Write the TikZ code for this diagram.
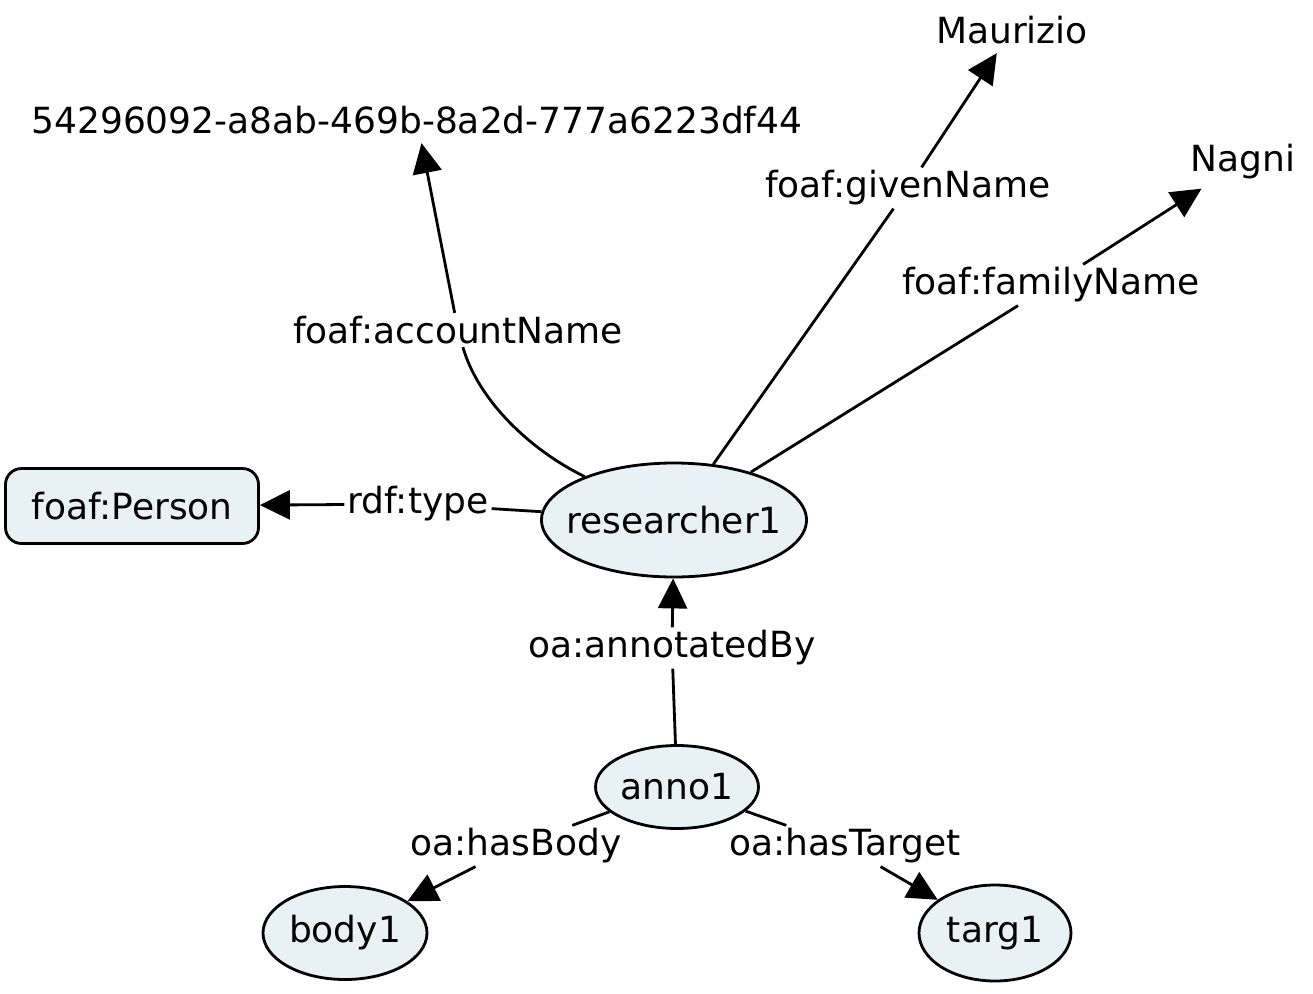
\documentclass[tikz,border=0pt]{standalone}
\usepackage{fontspec}
\setmainfont{DejaVu Sans}
\usetikzlibrary{arrows.meta,shapes.geometric}
\definecolor{nodefill}{RGB}{232,241,244}
\begin{document}
\begin{tikzpicture}[x=1pt,y=-1pt,
    font=\fontsize{36}{42}\selectfont,
    res/.style={ellipse,draw,line width=2.8pt,fill=nodefill,inner sep=0pt},
    cls/.style={rectangle,rounded corners=16pt,draw,line width=2.8pt,fill=nodefill,
      minimum width=253pt,minimum height=75pt},
    lit/.style={inner sep=9pt},
    lbl/.style={inner sep=3pt},
    link/.style={line width=2.8pt},
    arr/.style={link,-{Triangle[length=30pt,width=29pt]}}]
  \useasboundingbox (0,0) rectangle (1313,993);
  % resources and literals
  \node[res,inner xsep=-16pt,minimum width=265pt,minimum height=114pt] (researcher1) at (674,520) {researcher1};
  \node[res,minimum width=163pt,minimum height=83pt] (anno1) at (677,787) {anno1};
  \node[res,minimum width=164pt,minimum height=93pt] (body1) at (345,933) {body1};
  \node[res,minimum width=152pt,minimum height=96pt] (targ1) at (995,933) {targ1};
  \node[cls] (person) at (132,506) {foaf:Person};
  \node[lit] (account) at (417,120) {54296092-a8ab-469b-8a2d-777a6223df44};
  \node[lit] (given) at (1012,30) {Maurizio};
  \node[lit] (family) at (1243,162) {Nagni};
  % predicate labels
  \node[lbl] (type) at (418,504) {rdf:type};
  \node[lbl] (annotatedBy) at (672,648) {oa:annotatedBy};
  \node[lbl] (accountName) at (458,330) {foaf:accountName};
  \node[lbl] (givenName) at (908,188) {foaf:givenName};
  \node[lbl] (familyName) at (1051,285) {foaf:familyName};
  \node[lbl] (hasBody) at (516,846) {oa:hasBody};
  \node[lbl] (hasTarget) at (845,846) {oa:hasTarget};
  \begin{scope}
    \draw[link] (researcher1) -- (type);
    \draw[arr] (type) -- (person);
    \draw[link] (anno1) -- (annotatedBy);
    \draw[arr] (annotatedBy) -- (researcher1);
    \draw[link] (researcher1) .. controls (530,450) and (478,400) .. (accountName);
    \draw[arr] (accountName) -- (account);
    \draw[link] (researcher1) -- (givenName);
    \draw[arr] (givenName) -- (given);
    \draw[link] (researcher1) -- (familyName);
    \draw[arr] (familyName) -- (family);
    \draw[link] (anno1) -- (hasBody);
    \draw[arr] (hasBody) -- (body1);
    \draw[link] (anno1) -- (hasTarget);
    \draw[arr] (hasTarget) -- (targ1);
  \end{scope}
\end{tikzpicture}
\end{document}
